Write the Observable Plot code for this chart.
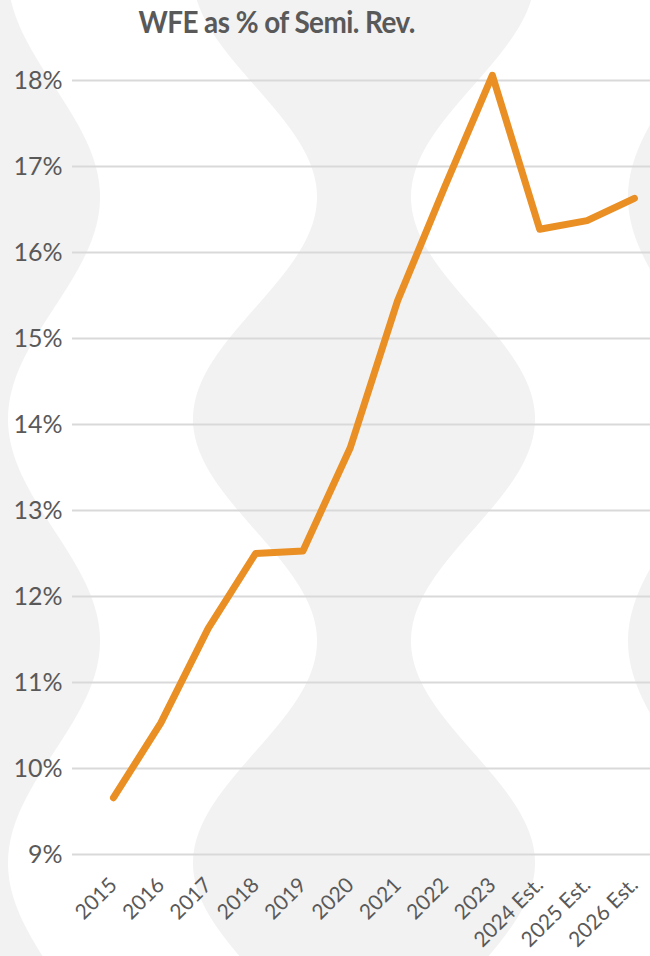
<!DOCTYPE html>
<html>
<head>
<meta charset="utf-8">
<script src="https://cdn.jsdelivr.net/npm/d3@7"></script>
<script src="https://cdn.jsdelivr.net/npm/@observablehq/plot@0.6"></script>
<style>
  html, body { margin: 0; padding: 0; background: #ffffff; }
  #wrap { position: relative; width: 650px; height: 956px; overflow: hidden; }
  #bg { position: absolute; left: 0; top: 0; }
  #title { position: relative; height: 50px; line-height: 42px; text-align: center; width: 554px; }
  #title span { display: inline-block; transform: scaleX(0.93); font-family: Lato, sans-serif; font-weight: bold;
           font-size: 30px; letter-spacing: -0.6px; color: #595959; }
  #chart { position: relative; }
</style>
</head>
<body>
<div id="wrap">
  <svg id="bg" width="650" height="956"></svg>
  <div id="title"><span>WFE as % of Semi. Rev.</span></div>
  <div id="chart"></div>
</div>
<script>
const years = ["2015", "2016", "2017", "2018", "2019", "2020", "2021", "2022", "2023", "2024 Est.", "2025 Est.", "2026 Est."];
const wfeShare = [9.66, 10.53, 11.63, 12.50, 12.53, 13.73, 15.44, 16.77, 18.06, 16.27, 16.37, 16.63];
const yTicks = [9, 10, 11, 12, 13, 14, 15, 16, 17, 18];

// decorative wavy background (not data)
(function () {
  const bg = d3.select("#bg");
  const P = 444, y0 = 197;
  const c = y => Math.cos(2 * Math.PI * (y - y0) / P);
  const ys = d3.range(-10, 970, 4);
  const c1 = y => 54 + 46 * c(y), c2 = y => 255 + 62 * c(y);
  const c3 = y => 728 - c2(y), c4 = y => 728 - c1(y);
  const pts = f => ys.map(y => [f(y), y]);
  const line = d3.line();
  const A = "M0,-10L" + pts(c1).map(p => p.join(",")).join("L") + "L0,970Z";
  const B = line(pts(c2).concat(pts(c3).reverse())) + "Z";
  const C = "M660,-10L" + pts(c4).map(p => p.join(",")).join("L") + "L660,970Z";
  [A, B, C].forEach(d => bg.append("path").attr("d", d).attr("fill", "#F2F2F2"));
})();

const data = years.map((label, i) => ({ i, label, v: wfeShare[i] }));

const chart = Plot.plot({
  width: 650,
  height: 906,
  marginTop: 30,
  marginBottom: 102,
  marginLeft: 72,
  marginRight: 0,
  style: { background: "transparent", overflow: "visible", fontFamily: "Lato, sans-serif" },
  x: { type: "linear", domain: [-0.866, 11.34], axis: null },
  y: { domain: [9, 18], axis: null },
  marks: [
    Plot.gridY(yTicks, { stroke: "#D9D9D9", strokeOpacity: 1, strokeWidth: 2 }),
    Plot.axisY(yTicks, {
      tickSize: 0, tickPadding: 10, fontSize: 25, fill: "#595959", label: null,
      tickFormat: d => d + "%"
    }),
    Plot.axisX(d3.range(years.length), {
      tickSize: 0, tickPadding: 27, tickRotate: -45, fontSize: 21, fill: "#595959", label: null,
      tickFormat: i => years[i]
    }),
    Plot.line(data, {
      x: "i", y: "v", stroke: "#E98F24", strokeWidth: 7,
      strokeLinecap: "round", strokeLinejoin: "round", clip: false
    })
  ]
});
document.getElementById("chart").appendChild(chart);
</script>
</body>
</html>
